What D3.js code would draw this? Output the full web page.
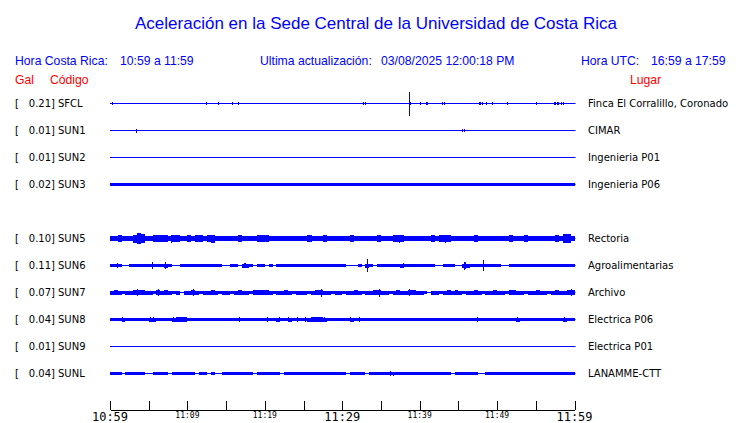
<!DOCTYPE html>
<html>
<head>
<meta charset="utf-8">
<script src="https://cdn.jsdelivr.net/npm/d3@7"></script>
<style>
  body { margin: 0; background: #fff; }
</style>
</head>
<body>
<script>
// rows as they appear on the page (SUN4 is offline, its row stays empty)
var rowOrder = ["SFCL", "SUN1", "SUN2", "SUN3", "SUN4", "SUN5", "SUN6", "SUN7", "SUN8", "SUN9", "SUNL"];
var stations = ["SFCL", "SUN1", "SUN2", "SUN3", "SUN5", "SUN6", "SUN7", "SUN8", "SUN9", "SUNL"];
var peakGal = [0.21, 0.01, 0.01, 0.02, 0.10, 0.11, 0.07, 0.04, 0.01, 0.04];
var places = ["Finca El Corralillo, Coronado", "CIMAR", "Ingenieria P01", "Ingenieria P06",
  "Rectoria", "Agroalimentarias", "Archivo", "Electrica P06", "Electrica P01", "LANAMME-CTT"];

var tickLabels = ["10:59", "11:09", "11:19", "11:29", "11:39", "11:49", "11:59"];
var bigLabels = ["10:59", "11:29", "11:59"];

// envelope of each record, Gal, one value per 30 s (empty = quiet line)
var envSFCL = [], envSUN1 = [], envSUN2 = [], envSUN9 = [];
var envSUN3 = [
  .025,.02,.018,.025,.02,.018,.025,.028,.02,.025,.028,.025,.018,.025,.028,.02,.025,.018,.025,.028,.025,.02,.028,.025,.018,.02,.025,.018,.025,.028,
  .02,.025,.028,.03,.025,.018,.02,.025,.028,.025,.02,.025,.018,.025,.028,.025,.02,.028,.025,.02,.018,.025,.028,.025,.02,.025,.018,.028,.025,.02,
  .025,.028,.02,.025,.018,.025,.028,.025,.02,.028,.025,.025,.02,.018,.025,.028,.02,.025,.028,.025,.018,.02,.025,.028,.025,.02,.025,.018,.025,.028,
  .028,.025,.02,.025,.028,.018,.025,.02,.028,.025,.025,.018,.02,.025,.028,.025,.02,.018,.025,.028,.03,.028,.025,.02,.028,.025,.028,.02,.025,.028];
var envSUN5 = [
  .05,.045,.06,.05,.045,.05,.07,.09,.075,.05, .045,.06,.065,.06,.055,.045,.06,.055,.045,.04,
  .055,.05,.06,.055,.05,.055,.07,.05,.045,.05, .045,.04,.05,.055,.045,.05,.045,.05,.065,.06,
  .065,.05,.045,.05,.045,.04,.05,.045,.05,.045, .05,.06,.05,.045,.05,.055,.045,.05,.045,.05,
  .045,.05,.055,.045,.05,.045,.05,.045,.05,.055, .05,.045,.05,.055,.065,.06,.05,.045,.05,.045,
  .05,.045,.05,.055,.05,.055,.065,.06,.05,.045, .05,.045,.05,.05,.055,.045,.05,.045,.05,.045,
  .05,.045,.05,.055,.05,.045,.05,.055,.045,.05, .05,.045,.05,.045,.05,.055,.05,.075,.08,.05];
var envSUN6 = [
  .026,.03,.022,0,0,.026,.022,.026,.028,.022, .03,.026,.022,.026,.035,.026,0,0,.022,.026,
  .026,.022,.026,.028,.022,.026,.022,.026,.022,0, 0,.022,.026,0,.035,.035,.026,0,.022,.026,
  0,.022,0,.026,.03,.03,.026,.03,.022,.026, .022,.026,.022,.03,.026,.022,.026,.022,.026,.022,
  .03,0,0,0,.026,0,.035,.026,0,.022, .026,.022,.026,.022,.026,.035,.026,.022,.026,.03,
  .026,.03,.022,.026,0,0,.022,.026,.022,0, 0,.035,.035,.026,.022,.026,.03,.022,.026,.022,
  .026,0,0,.022,.026,.022,.026,.022,.026,.022, .026,.022,.026,.022,.026,.03,.026,.022,.026,.022];
var envSUN7 = [
  .035,.04,.035,.03,.035,.035,.05,.045,.05,.035, .035,.03,.05,.035,.04,.035,.03,.035,.015,.035,
  .035,.05,.035,.03,.035,.035,.04,.035,.03,.035, .035,.03,.035,.04,.035,.035,.03,.045,.05,.045,
  .05,.035,.03,.035,.035,.04,.035,.03,.035,.035, .035,.03,.035,.04,.05,.035,.035,.03,.035,.035,
  .03,.035,.035,.04,.035,.03,.035,.035,.04,.05, .035,.035,.03,.035,.04,.035,.035,.05,.045,.035,
  .035,.03,.015,.035,.035,.03,.035,.04,.035,.045, .035,.03,.035,.035,.04,.035,.03,.035,.035,.04,
  .035,.035,.03,.045,.05,.035,.035,.03,.035,.035, .04,.035,.035,.03,.035,.04,.035,.035,.045,.05];
var envSUN8 = [
  .03,.03,.03,.035,.03,.03,.03,.03,.03,.03, .035,.035,.03,.03,.03,.03,.035,.045,.045,.04,
  .03,.03,.03,.03,.03,.03,.03,.03,.03,.03, .03,.03,.03,.03,.03,.03,.03,.03,.03,.03,
  .03,.03,.03,.035,.03,.03,.035,.03,.03,.03, .03,.035,.04,.045,.04,.035,.03,.03,.03,.03,
  .03,.03,.035,.03,.03,.03,.03,.03,.03,.03, .03,.03,.03,.03,.03,.03,.03,.03,.03,.03,
  .03,.03,.03,.03,.03,.03,.03,.03,.03,.03, .03,.03,.03,.03,.03,.03,.03,.03,.03,.03,
  .03,.03,.03,.03,.03,.035,.03,.03,.03,.03, .03,.03,.03,.03,.03,.03,.03,.035,.03,.03];
var envSUNL = [
  .025,.02,.025,0,.025,.02,.025,.025,.02,0, 0,.025,.02,.025,.025,0,.025,.02,.025,.025,
  .02,.025,0,.025,.02,0,.025,0,0,.025, .02,.025,.025,.02,.025,.025,.02,0,.025,.025,
  .02,.025,.025,.02,0,.025,.025,.02,.025,.025, .025,.02,.025,.025,.02,.025,.025,.02,.025,.025,
  .02,0,.025,.025,.02,.025,0,.025,.02,.025, .025,.02,.025,.03,.025,.02,.025,.025,.02,.025,
  .025,.02,.025,.025,.02,.025,.025,.02,0,.025, .025,.02,.025,.025,.02,0,0,.025,.02,.025,
  .025,.02,.025,.025,.02,.025,.025,.02,.025,.025, .02,.025,.025,.02,.025,.025,.02,.025,.025,.02];

// single peaks: [minute after 10:59, Gal]
var spikesSFCL = [[0.2,.02],[4.9,.01],[5.2,.01],[11.4,.015],[11.9,.01],[12.4,.025],[12.7,.015],[13.7,.015],
  [14.0,.02],[14.2,.015],[14.5,.015],[15.7,.02],[15.9,.015],[16.5,.02],[16.7,.015],[17.0,.01],[18.3,.01],
  [18.8,.01],[19.3,.015],[20.1,.01],[32.7,.02],[32.9,.02],[36.2,.01],[37.9,.01],[38.6,.21],[38.8,.02],
  [40.1,.02],[40.3,.015],[40.8,.02],[41.0,.02],[42.9,.025],[43.2,.025],[44.8,.01],[47.6,.02],[47.8,.02],
  [48.0,.02],[48.3,.015],[48.6,.02],[49.0,.015],[49.3,.02],[49.8,.015],[50.3,.015],[50.6,.01],[51.3,.02],
  [52.0,.01],[52.5,.015],[53.0,.01],[53.4,.01],[55.0,.02],[55.9,.015],[57.3,.025],[57.5,.025],[57.7,.025],
  [57.9,.025],[58.2,.025],[58.5,.02],[58.8,.015],[59.9,.01]];
var spikesSUN1 = [[3.4,.035],[7.5,.015],[12.6,.015],[28.6,.015],[44.9,.01],[45.5,.025],[45.7,.025]];
var spikesSUN2 = [];
var spikesSUN3 = [];
var spikesSUN5 = [[3.6,.09],[7.9,.07],[13.3,.07],[19.5,.065],[25.9,.06],[37.3,.07],[43.3,.07],[47.4,.055],[59.0,.08]];
var spikesSUN6 = [[0.9,.04],[5.4,.06],[7.1,.06],[17.3,.05],[17.5,.045],[33.2,.11],[37.9,.05],[45.7,.07],[45.9,.06],[48.2,.1]];
var spikesSUN7 = [[3.5,.055],[6.2,.055],[10.7,.06],[27.2,.07],[34.7,.07],[38.6,.06],[59.5,.06]];
var spikesSUN8 = [[1.6,.05],[5.2,.05],[5.6,.045],[8.2,.05],[16.6,.045],[20.3,.045],[21.8,.045],[23.0,.05],
  [24.2,.04],[25.2,.04],[26.2,.05],[27.6,.045],[31.0,.05],[32.2,.045],[47.4,.045],[52.6,.045],[58.7,.045]];
var spikesSUN9 = [[13.4,.015],[26.9,.015]];
var spikesSUNL = [[36.2,.045],[36.5,.035]];

var envelopes = [envSFCL, envSUN1, envSUN2, envSUN3, envSUN5, envSUN6, envSUN7, envSUN8, envSUN9, envSUNL];
var spikes = [spikesSFCL, spikesSUN1, spikesSUN2, spikesSUN3, spikesSUN5, spikesSUN6, spikesSUN7, spikesSUN8, spikesSUN9, spikesSUNL];
var binMinutes = 0.5;

var w = 740, h = 423;
var t0 = new Date(2025, 2, 8, 10, 59);
var t1 = new Date(2025, 2, 8, 11, 59);
function at(m) { return new Date(t0.getTime() + m * 60000); }

var svg = d3.select("body").append("svg")
    .attr("width", w)
    .attr("height", h)
    .style("font-family", "'DejaVu Sans', sans-serif");

var x = d3.scaleTime().domain([t0, t1]).range([110, 574.5]);
var y = d3.scalePoint().domain(rowOrder).range([103.5, 373.5]);
// same Gal scale for every record
var amp = d3.scaleLinear().domain([0, 0.21]).range([0, 12]);

// title and header
svg.append("text")
    .attr("x", 376).attr("y", 29)
    .attr("text-anchor", "middle")
    .style("font-family", "'Liberation Sans', Arial, sans-serif")
    .style("font-size", "17px")
    .style("fill", "#0000ff")
    .text("Aceleración en la Sede Central de la Universidad de Costa Rica");

var header = [
  [15, "Hora Costa Rica:"], [120, "10:59 a 11:59"],
  [260, "Ultima actualización:"], [381, "03/08/2025 12:00:18 PM"],
  [581, "Hora UTC:"], [651, "16:59 a 17:59"]
];
svg.selectAll(".head")
    .data(header)
    .enter().append("text")
    .attr("class", "head")
    .attr("x", function(d) { return d[0]; })
    .attr("y", 65)
    .style("font-family", "'Liberation Sans', Arial, sans-serif")
    .style("font-size", "12.2px")
    .style("fill", "#0000ff")
    .text(function(d) { return d[1]; });

svg.selectAll(".colhead")
    .data([[15, "Gal"], [50, "Código"], [630, "Lugar"]])
    .enter().append("text")
    .attr("class", "colhead")
    .attr("x", function(d) { return d[0]; })
    .attr("y", 84)
    .style("font-family", "'Liberation Sans', Arial, sans-serif")
    .style("font-size", "12.2px")
    .style("fill", "#ff0000")
    .text(function(d) { return d[1]; });

// one group per record
var rows = svg.selectAll(".row")
    .data(stations)
    .enter().append("g")
    .attr("class", "row")
    .attr("transform", function(d) { return "translate(0," + y(d) + ")"; });

rows.append("text").attr("x", 15).attr("y", 3.2).style("font-size", "10px").text("[");
rows.append("text")
    .attr("x", 55).attr("y", 3.2)
    .attr("text-anchor", "end")
    .style("font-size", "10px")
    .text(function(d, i) { return peakGal[i].toFixed(2) + "]"; });
rows.append("text")
    .attr("x", 58).attr("y", 3.2)
    .style("font-size", "10px")
    .text(function(d) { return d; });
rows.append("text")
    .attr("x", 588).attr("y", 3.8)
    .style("font-size", "10px")
    .text(function(d, i) { return places[i]; });

rows.append("line")
    .attr("x1", x(t0)).attr("x2", x(t1) + 1)
    .attr("y1", 0).attr("y2", 0)
    .attr("stroke", "#0000ff")
    .attr("stroke-width", 1);

rows.each(function(d, i) {
  var g = d3.select(this);
  var env = envelopes[i].map(function(a, k) { return { k: k, a: a }; })
      .filter(function(e) { return e.a > 0; });

  g.selectAll(".env")
      .data(env)
      .enter().append("rect")
      .attr("class", "env")
      .attr("x", function(e) { return x(at(e.k * binMinutes)); })
      .attr("width", function(e) { return x(at((e.k + 1) * binMinutes)) - x(at(e.k * binMinutes)); })
      .attr("y", function(e) { return -amp(e.a); })
      .attr("height", function(e) { return 2 * amp(e.a); })
      .attr("fill", "#0000ff")
      .attr("shape-rendering", "crispEdges");

  g.selectAll(".spike")
      .data(spikes[i])
      .enter().append("line")
      .attr("class", "spike")
      .attr("x1", function(s) { return Math.round(x(at(s[0]))) + 0.5; })
      .attr("x2", function(s) { return Math.round(x(at(s[0]))) + 0.5; })
      .attr("y1", function(s) { return -amp(s[1]); })
      .attr("y2", function(s) { return amp(s[1]); })
      .attr("stroke", "#0000ff")
      .attr("stroke-width", 1.5)
      .attr("shape-rendering", "crispEdges");
});

// time axis, ticks every 5 minutes pointing up
var tickTimes = d3.range(13).map(function(i) { return d3.timeMinute.offset(t0, 5 * i); });
var axis = d3.axisBottom(x)
    .tickValues(tickTimes)
    .tickSize(-9)
    .tickSizeOuter(0)
    .tickFormat("");

svg.append("g")
    .attr("transform", "translate(0,409.5)")
    .call(axis)
    .call(function(g) {
      g.selectAll("path, line").attr("stroke", "#000").attr("shape-rendering", "crispEdges");
    });

svg.selectAll(".tlabel")
    .data(tickLabels)
    .enter().append("text")
    .attr("class", "tlabel")
    .attr("x", function(d, i) { return x(d3.timeMinute.offset(t0, 10 * i)); })
    .attr("y", function(d) { return bigLabels.indexOf(d) >= 0 ? 421 : 418; })
    .attr("text-anchor", "middle")
    .style("font-family", "'DejaVu Sans Mono', monospace")
    .style("font-size", function(d) { return bigLabels.indexOf(d) >= 0 ? "12px" : "8px"; })
    .style("fill", "#000")
    .text(function(d) { return d; });
</script>
</body>
</html>
